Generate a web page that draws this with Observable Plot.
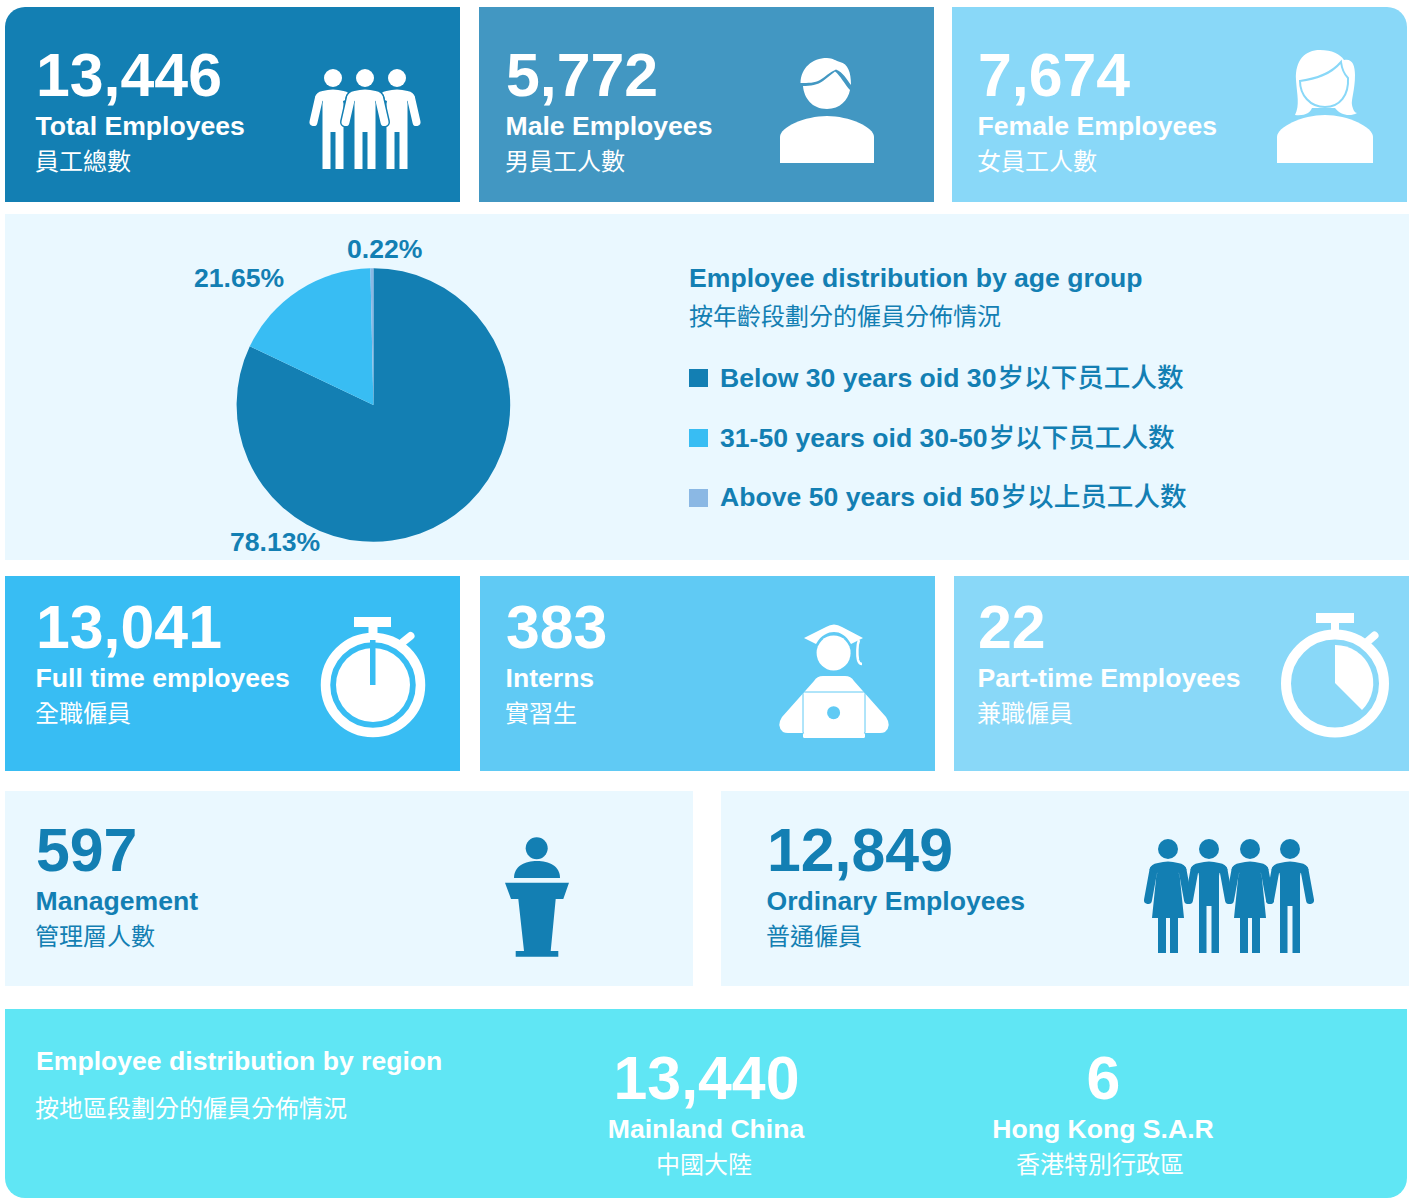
<!DOCTYPE html>
<html><head><meta charset="utf-8">
<script src="https://cdn.jsdelivr.net/npm/d3@7"></script>
<script src="https://cdn.jsdelivr.net/npm/@observablehq/plot@0.6"></script>
<style>
html,body{margin:0;padding:0;background:#fff}
#page{position:relative;width:1415px;height:1198px;overflow:hidden}
.card{position:absolute}
#page svg{position:absolute;left:0;top:0;background:transparent}
</style></head><body><div id="page"></div>
<script>
// ---- data ----
const statValues   = ["13,446","5,772","7,674","13,041","383","22","597","12,849"];
const statLabels   = ["Total Employees","Male Employees","Female Employees","Full time employees","Interns","Part-time Employees","Management","Ordinary Employees"];
const statLabelsZh = ["員工總數","男員工人數","女員工人數","全職僱員","實習生","兼職僱員","管理層人數","普通僱員"];
const ageGroups    = ["Below 30 years oid 30岁以下员工人数","31-50 years oid 30-50岁以下员工人数","Above 50 years oid 50岁以上员工人数"];
const ageGroupsEn  = ["Below 30 years oid 30","31-50 years oid 30-50","Above 50 years oid 50"];
const ageGroupsZh  = ["岁以下员工人数","岁以下员工人数","岁以上员工人数"];
const ageLabels    = ["78.13%","21.65%","0.22%"];
// slice sizes as they are drawn in the picture (they differ from the printed labels)
const ageDrawnShare = [82.05,17.6,0.35];
const ageColors    = ["#137fb3","#38bdf3","#8bb8e4"];
const regionNames  = ["Mainland China","Hong Kong S.A.R"];
const regionNamesZh= ["中國大陸","香港特別行政區"];
const regionValues = ["13,440","6"];

// ---- layout ----
const blue="#137fb3", white="#fff", pale="#eaf8ff";
const cards=[
 [5,7,455,195,"#137fb3","20px 0 0 0"],[479,7,455,195,"#4297c2","0"],[952,7,455,195,"#89d8f8","0 20px 0 0"],
 [5,214,1404,346,pale,"0"],
 [5,576,455,195,"#38bdf3","0"],[480,576,455,195,"#60caf4","0"],[954,576,455,195,"#89d8f8","0"],
 [5,791,688,195,pale,"0"],[721,791,688,195,pale,"0"],
 [5,1009,1402,189,"#60e6f4","0 0 20px 20px"]];
const page=document.getElementById("page");
for(const [x,y,w,h,c,r] of cards){
  const d=document.createElement("div");d.className="card";
  d.style.cssText=`left:${x}px;top:${y}px;width:${w}px;height:${h}px;background:${c};border-radius:${r}`;
  page.appendChild(d);
}
const statX=[36,506,978,36,506,978,36,767];
const statY=[95,95,95,647,647,647,870,870];
const statInk=[white,white,white,white,white,white,blue,blue];
const LAT='"Liberation Sans",Arial,sans-serif', TC='"Noto Sans CJK TC","Liberation Sans",sans-serif', SC='"Noto Sans CJK SC","Liberation Sans",sans-serif';
const NUM=60.8, LAB=26.6, ZH=24;
const texts=[];
const T=(text,x,y,size,fill,font,weight,anchor="start")=>texts.push({text,x,y,size,fill,font,weight,anchor});
statValues.forEach((v,i)=>{
  T(v,statX[i]-0.5,statY[i],NUM,statInk[i],LAT,700);
  T(statLabels[i],statX[i]-1,statY[i]+39,LAB,statInk[i],LAT,700);
  T(statLabelsZh[i],statX[i]-1.5,statY[i]+74,ZH,statInk[i],TC,400);
});
T("Employee distribution by age group",688.5,286,LAB,blue,LAT,700);
T("按年齡段劃分的僱員分佈情況",688.5,324,ZH,blue,TC,400);
const legendY=[386,446,505], legendZhX=[997,988,1000];
ageGroupsEn.forEach((s,i)=>{
  T(s,719.5,legendY[i],LAB,blue,LAT,700);
  T(ageGroupsZh[i],legendZhX[i],legendY[i],LAB,blue,SC,500);
});
const pieLabelPos=[[229.5,550],[193.5,286],[346.5,257]];
ageLabels.forEach((s,i)=>T(s,pieLabelPos[i][0],pieLabelPos[i][1],LAB,blue,LAT,700));
T("Employee distribution by region",35.5,1069,LAB,white,LAT,700);
T("按地區段劃分的僱員分佈情況",34.5,1116,ZH,white,TC,400);
const regionCx=[706,1103], regionZhCx=[703.5,1099.5];
regionValues.forEach((v,i)=>{
  T(v,regionCx[i],1098,NUM,white,LAT,700,"middle");
  T(regionNames[i],regionCx[i]-0.5,1137,LAB,white,LAT,700,"middle");
  T(regionNamesZh[i],regionZhCx[i],1172,ZH,white,TC,400,"middle");
});
const legendSwatches=ageColors.map((c,i)=>({x1:689,x2:708,y1:[369,429,489][i],y2:[387,447,507][i],c}));

// ---- icons ----
function person(c,top,bot,crotch,hw,gap,sw,handDx,handY,arm,ink,dress,halo,omit){
  const L=`M${c-sw+arm/2},${top+arm} L${c-handDx},${handY} `, Rr=`M${c+sw-arm/2},${top+arm} L${c+handDx},${handY}`;
  const arms=(omit==="l"?"":L)+(omit==="r"?"":Rr);
  let body=`M${c-sw},${top+arm} Q${c-sw+1},${top+2} ${c-hw},${top+1} Q${c},${top-2} ${c+hw},${top+1} Q${c+sw-1},${top+2} ${c+sw},${top+arm} L${c+sw-arm},${top+arm+3} `;
  if(dress){
    body+=`L${c+sw-arm+1},${top+12} L${c+dress},${crotch} L${c+hw},${crotch} L${c+hw},${bot} L${c+gap},${bot} L${c+gap},${crotch} L${c-gap},${crotch} L${c-gap},${bot} L${c-hw},${bot} L${c-hw},${crotch} L${c-dress},${crotch} L${c-sw+arm-1},${top+12} `;
  } else {
    body+=`L${c+hw},${top+14} L${c+hw},${bot} L${c+gap},${bot} L${c+gap},${crotch} L${c-gap},${crotch} L${c-gap},${bot} L${c-hw},${bot} L${c-hw},${top+14} `;
  }
  body+=`L${c-sw+arm},${top+arm+3}Z`;
  const h=halo?`<path d="${arms}" fill="none" stroke="${halo}" stroke-width="${arm+3}" stroke-linecap="round"/><path d="${body}" fill="${halo}" stroke="${halo}" stroke-width="3"/>`:"";
  return h+`<path d="${arms}" fill="none" stroke="${ink}" stroke-width="${arm}" stroke-linecap="round"/><path d="${body}" fill="${ink}"/>`;
}
const head=(x,y,r,ink)=>`<circle cx="${x}" cy="${y}" r="${r}" fill="${ink}"/>`;
function stopwatch(cx,cy,r,w,capL,capR,capT,capB,stem,knob){
  return `<circle cx="${cx}" cy="${cy}" r="${r}" fill="none" stroke="#fff" stroke-width="${w}"/>
  <rect x="${capL}" y="${capT}" width="${capR-capL}" height="${capB-capT}" fill="#fff"/>
  <rect x="${cx-stem}" y="${capB}" width="${stem*2}" height="${cy-r-capB+2}" fill="#fff"/>
  <path d="M${knob}" stroke="#fff" stroke-width="8" stroke-linecap="round" fill="none"/>`;
}
const iconMarkup=[
 // three men
 person(333,90,169,132,10.5,2.5,18,19.5,122,8,white,null,null,"r"),head(333,78,9,white),
 person(397,90,169,132,10.5,2.5,18,19.5,122,8,white,null,null,"l"),head(397,78,9,white),
 person(365,90,169,132,10.5,2.5,18,19.5,122,8,white,null,"#137fb3"),head(365,78,9,white),
 // male
 `<path fill="#fff" d="M780,163 L780,137 C780,127 805,116 827,116 C849,116 874,127 874,137 L874,163Z"/>
  <path fill="#fff" d="M803,86 C810,86 818,85 823,81 L835,71.5 C840,75 845,85 850,90 C848,100 840,109 827,109 C812,109 804,98 803,86Z"/>
  <path fill="#fff" d="M800.5,83 C801,68 812,58 827,58 C833,58 836,61 840,62 C848,64 851,72 851,85 C847,80 843,72 836,69.5 C830,72 825,77 820,80 C815,83 808,83 800.5,83Z"/>`,
 // female
 `<path fill="#fff" d="M1277,163 L1277,137 C1277,127 1302,115 1325,115 C1348,115 1373,127 1373,137 L1373,163Z"/>
  <path fill="#fff" d="M1295,115 C1300,105 1297,95 1296,80 C1295,60 1305,50 1320,50 C1332,50 1340,54 1344,60 C1352,58 1355,65 1355,75 C1355,90 1351,100 1352,105 C1353,110 1355,113 1357,113 C1350,117 1340,115 1335,108 L1312,108 C1310,113 1305,116 1295,115Z"/>
  <path fill="#fff" stroke="#89d8f8" stroke-width="2" d="M1300,81 C1315,79 1330,75 1341,62 C1342,70 1345,75 1348,78 C1349,95 1340,107 1325,107 C1310,107 1300,95 1300,81Z"/>`,
 // full time stopwatch
 stopwatch(373,685,47.5,9.5,354,391,617,627,4.5,"403,642 L410.5,636"),
 `<circle cx="373" cy="685" r="37" fill="#fff"/><rect x="370" y="640" width="5.5" height="45" fill="#38bdf3"/>`,
 // part time stopwatch
 stopwatch(1335,683.5,49,10,1316,1354,613,623,4,"1367,642 L1374.5,635.5"),
 `<path fill="#fff" d="M1335,683 L1335,645 A38,38 0 0 1 1362,710Z"/>`,
 // intern
 `<path fill="#fff" d="M804,638 L826,627 Q834,622 842,627 L863,638 L851,644 C846,635 840,632 834,632 C828,632 821,635 816,644Z"/>
  <path fill="none" stroke="#fff" stroke-width="2.5" d="M859,640 C857,645 857,655 858,660 Q859,664 862,664"/>
  <ellipse cx="833.6" cy="653" rx="17" ry="17.5" fill="#fff"/>
  <path fill="#fff" d="M823,676 L845,676 Q851,676 854,681 L886,717 Q892,726 885,732 Q883,733 880,733 L788,733 Q785,733 783,732 Q776,726 782,717 L814,681 Q817,676 823,676Z"/>
  <rect x="803" y="692" width="62" height="41.5" rx="1.5" fill="#fff" stroke="#60caf4" stroke-width="1"/>
  <rect x="803" y="733" width="62" height="5" rx="1.5" fill="#fff"/>
  <ellipse cx="833.6" cy="712.7" rx="6.5" ry="6.5" fill="#60caf4"/>`,
 // podium
 head(536.7,848.3,11,blue),
 `<path fill="${blue}" d="M514,878 C514,866 525,861 537,861 C549,861 560,866 560,878Z"/>
  <path fill="${blue}" d="M505,882.7 L569,882.7 L563.3,899 L555.7,899 L550.7,951 L558.3,951 L558.3,956.7 L515.7,956.7 L515.7,951 L524,951 L518.3,899 L511,899Z"/>`,
 // four people
 person(1168,862,953,918,10,2,18.5,20,900,8,blue,16),head(1168,849,10,blue),
 person(1209,862,953,906,10,2.5,18.5,20,900,8,blue),head(1209,849,10,blue),
 person(1250,862,953,918,10,2,18.5,20,900,8,blue,16),head(1250,849,10,blue),
 person(1290,862,953,906,10,2.5,18.5,20,900,8,blue),head(1290,849,10,blue)
].join("");

// ---- page layer: text, swatches, icons ----
const textMarks=texts.map(t=>Plot.text([t],{x:"x",y:"y",text:"text",fill:t.fill,fontSize:t.size,fontFamily:t.font,fontWeight:t.weight,textAnchor:t.anchor,lineAnchor:"bottom"}));
const layer=Plot.plot({
  width:1415,height:1198,margin:0,
  style:{background:"transparent"},
  x:{type:"identity",axis:null},y:{type:"identity",axis:null},
  marks:[
    Plot.rect(legendSwatches,{x1:"x1",x2:"x2",y1:"y1",y2:"y2",fill:"c"}),
    ()=>d3.create("svg:g").html(iconMarkup).node(),
    ...textMarks
  ]
});

// ---- pie: stacked bar whose x scale is an angle ----
const pieRows=ageGroups.map((g,i)=>({group:g,share:ageDrawnShare[i]}));
const PW=1415,PH=1198,CX=373.4,CY=405,R=136.8;
const pie=Plot.plot({
  width:PW,height:PH,margin:0,
  style:{background:"transparent"},
  x:{domain:[0,100],range:[0,2*Math.PI],axis:null},
  color:{domain:ageGroups,range:ageColors},
  marks:[
    Plot.barX(pieRows,{
      x:"share",fill:"group",
      render(index,scales,values,dims){
        const arc=d3.arc().innerRadius(0).outerRadius(R);
        const g=d3.create("svg:g").attr("transform",`translate(${CX},${CY})`);
        for(const i of index){
          g.append("path").attr("d",arc({startAngle:values.x1[i],endAngle:values.x2[i]})).attr("fill",values.fill[i]);
        }
        return g.node();
      }
    })
  ]
});
page.appendChild(pie);
page.appendChild(layer);
</script></body></html>
